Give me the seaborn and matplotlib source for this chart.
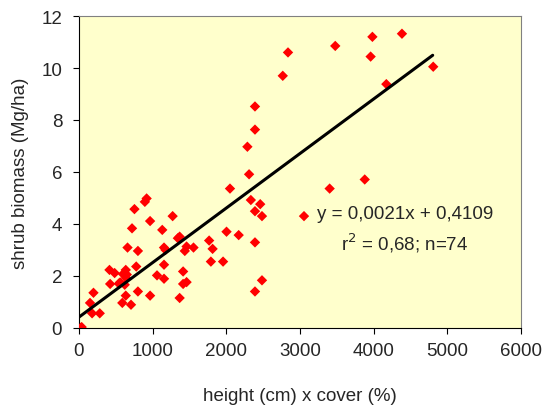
import numpy as np
import pandas as pd
import matplotlib
matplotlib.use("Agg")
import matplotlib.pyplot as plt
import seaborn as sns

# height (cm) x cover (%) vs shrub biomass (Mg/ha)
height_cover = [24, 38, 151, 198, 179, 283, 415, 424, 485, 542, 598, 636, 622, 640,
                589, 636, 660, 707, 721, 754, 778, 801, 801, 895, 919, 966, 966,
                1060, 1131, 1155, 1155, 1155, 1175, 1272, 1343, 1367, 1367, 1414, 1414,
                1437, 1461, 1461, 1555, 1767, 1791, 1814, 1956, 2003, 2050, 2168,
                2286, 2309, 2333, 2389, 2389, 2389, 2389, 2389, 2460, 2484, 2484,
                2766, 2837, 3054, 3402, 3478, 3878, 3958, 3982, 4171, 4383, 4807,
                650, 560]
biomass = [0.0, 0.03, 0.96, 1.35, 0.56, 0.56, 2.23, 1.69, 2.11, 1.70, 2.07, 2.23, 1.66, 1.92,
           0.96, 1.24, 3.09, 0.89, 3.83, 4.57, 2.36, 2.96, 1.40, 4.85, 4.98, 4.11, 1.24,
           2.02, 3.77, 3.09, 2.43, 1.89, 3.0, 4.30, 3.45, 3.51, 1.15, 2.17, 1.69,
           2.96, 3.13, 1.76, 3.09, 3.36, 2.55, 3.04, 2.55, 3.70, 5.36, 3.57,
           6.97, 5.91, 4.92, 4.49, 3.29, 1.40, 7.63, 8.52, 4.76, 4.30, 1.83,
           9.70, 10.60, 4.30, 5.36, 10.85, 5.71, 10.44, 11.20, 9.38, 11.32, 10.05,
           2.05, 1.75]

slope = 0.0021
intercept = 0.4109
fit_x = [0, 4800]

df = pd.DataFrame({"x": height_cover, "y": biomass})
fit = pd.DataFrame({"x": fit_x, "y": [slope * v + intercept for v in fit_x]})

sns.set_style("ticks")
plt.rcParams["font.family"] = ["Liberation Sans", "DejaVu Sans"]

fig = plt.figure(figsize=(5.44, 4.06), dpi=100)
ax = fig.add_axes([0.145, 0.19, 0.813, 0.768])
ax.set_facecolor("#FFFFCC")

sns.scatterplot(data=df, x="x", y="y", marker="D", s=28, color="#FF0000",
                edgecolor="none", ax=ax, zorder=3)
sns.lineplot(data=fit, x="x", y="y", color="black", linewidth=2.2, ax=ax, zorder=4)

ax.text(4425, 4.4, "y = 0,0021x + 0,4109", ha="center", va="center", fontsize=13.5)
ax.text(4425, 3.3, "r$^2$ = 0,68; n=74", ha="center", va="center", fontsize=13.5)

ax.set_xlim(0, 6000)
ax.set_ylim(0, 12)
ax.set_xticks(range(0, 6001, 1000))
ax.set_yticks(range(0, 13, 2))
ax.set_xlabel("height (cm) x cover (%)", fontsize=13.5, labelpad=20)
ax.set_ylabel("shrub biomass (Mg/ha)", fontsize=13.5, labelpad=9)
ax.tick_params(labelsize=13.5, length=4, direction="out", color="black")
ax.tick_params(axis="y", pad=8)
ax.tick_params(axis="x", pad=6)

for side in ["top", "right"]:
    ax.spines[side].set_color("#808080")
    ax.spines[side].set_visible(True)
for side in ["left", "bottom"]:
    ax.spines[side].set_color("black")

plt.savefig("out.png", dpi=100)
